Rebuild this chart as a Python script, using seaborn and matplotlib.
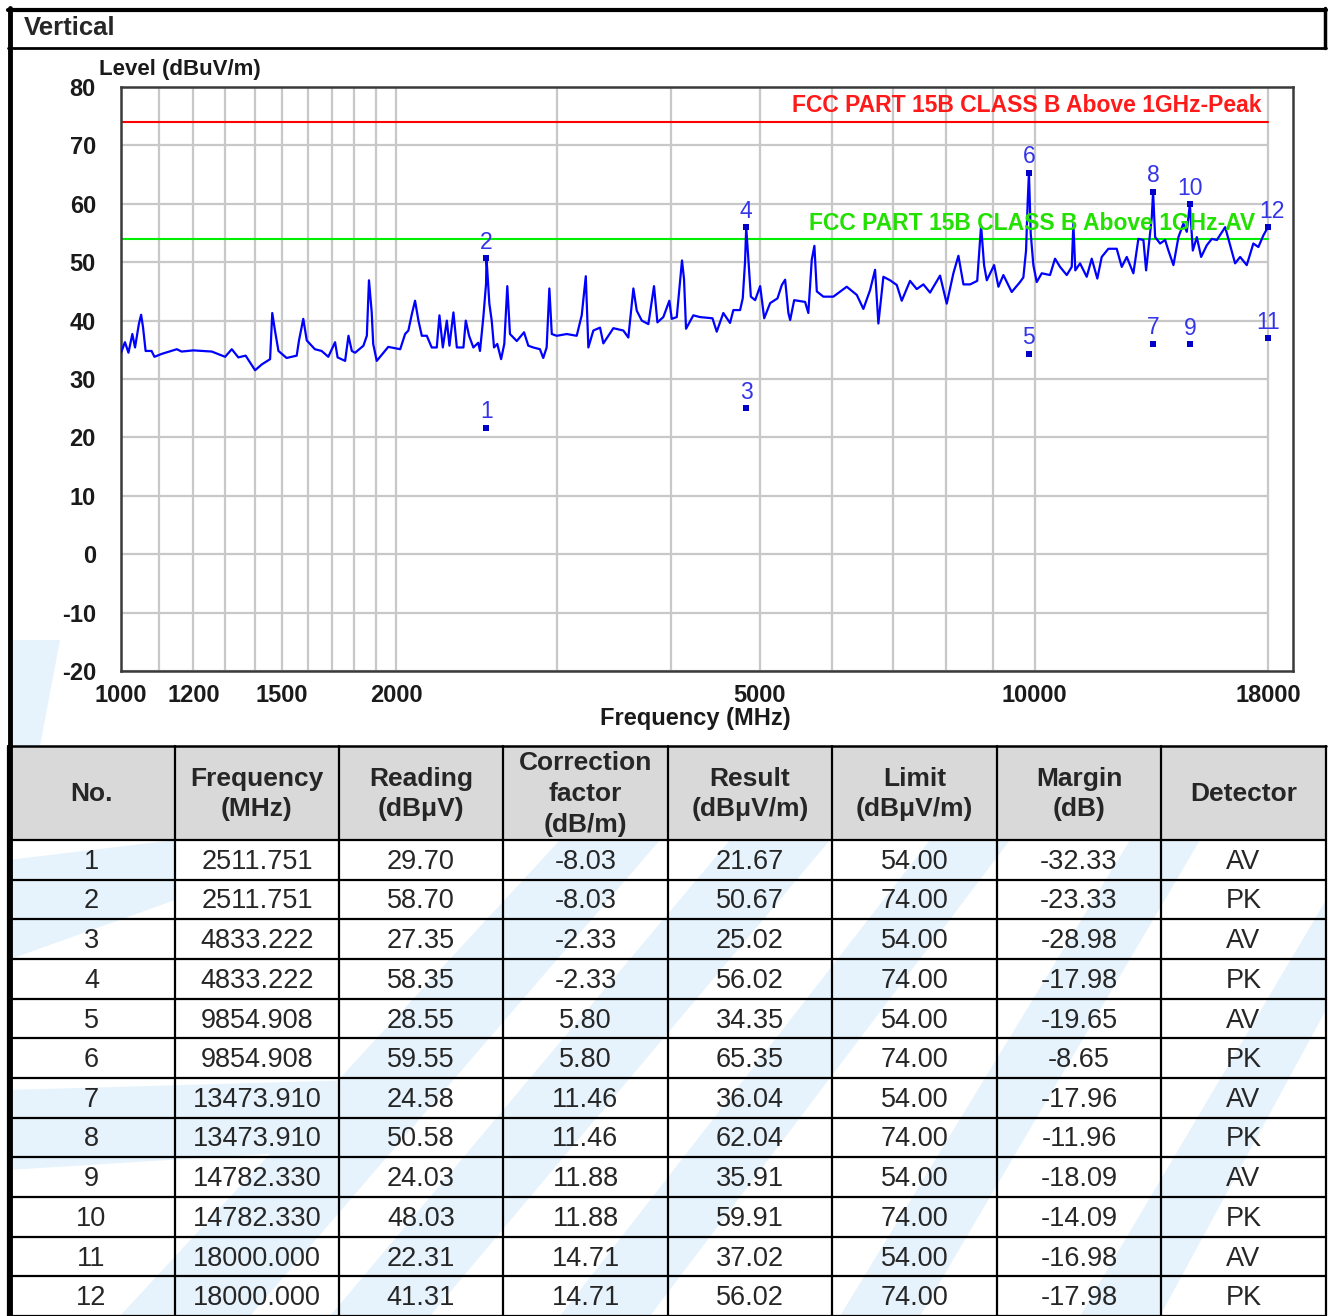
import matplotlib
matplotlib.use("Agg")
import matplotlib.pyplot as plt
from matplotlib.patches import Rectangle, Polygon
import matplotlib.transforms as mtransforms
import pandas as pd
import seaborn as sns

# ---- scan trace ----
trace_freq = [
    1000, 1010, 1019, 1029, 1036, 1046, 1052, 1057, 1064, 1080, 1088, 1108, 1151, 1165, 1200,
    1257, 1300, 1322, 1344, 1369, 1402, 1426, 1456, 1464, 1474, 1487, 1518, 1557, 1566, 1583,
    1597, 1610, 1630, 1658, 1686, 1715, 1726, 1759, 1774, 1789, 1804, 1842, 1858, 1868, 1881,
    1888, 1905, 1961, 2021, 2046, 2063, 2081, 2098, 2116, 2134, 2161, 2188, 2216, 2231, 2250,
    2273, 2288, 2311, 2331, 2370, 2384, 2404, 2430, 2460, 2471, 2492, 2509, 2512, 2530, 2545,
    2560, 2581, 2606, 2627, 2647, 2665, 2711, 2761, 2791, 2826, 2874, 2898, 2923, 2943, 2961,
    2998, 3075, 3153, 3193, 3226, 3247, 3288, 3344, 3372, 3458, 3546, 3591, 3637, 3668, 3715,
    3777, 3831, 3864, 3922, 3982, 4006, 4057, 4111, 4132, 4153, 4230, 4302, 4439, 4487, 4562,
    4640, 4679, 4759, 4791, 4819, 4833, 4860, 4890, 4943, 5006, 5057, 5134, 5229, 5287, 5331,
    5375, 5399, 5454, 5606, 5652, 5701, 5739, 5774, 5870, 6020, 6226, 6386, 6493, 6603, 6687,
    6743, 6829, 6945, 7063, 7152, 7303, 7428, 7553, 7681, 7877, 8011, 8146, 8250, 8355, 8497,
    8650, 8735, 8801, 8862, 9027, 9125, 9240, 9436, 9636, 9717, 9783, 9825, 9855, 9899, 9965,
    10050, 10178, 10392, 10524, 10658, 10840, 10977, 11022, 11076, 11209, 11399, 11544, 11708,
    11838, 12039, 12294, 12451, 12610, 12821, 12984, 13150, 13239, 13350, 13430, 13474, 13544,
    13714, 13889, 14005, 14183, 14363, 14543, 14668, 14782, 14893, 15044, 15208, 15427, 15624,
    15823, 16158, 16360, 16568, 16779, 17061, 17347, 17568, 17792, 18000,
]
trace_level = [
    34.5, 36.3, 34.5, 37.7, 35.4, 39.4, 41.0, 38.9, 34.8, 34.8, 33.8, 34.3, 35.1, 34.7, 34.9,
    34.7, 33.8, 35.1, 33.7, 34.0, 31.5, 32.5, 33.4, 41.3, 38.3, 34.8, 33.6, 34.0, 36.6, 40.3,
    36.6, 36.0, 35.1, 34.8, 33.8, 36.3, 33.7, 33.1, 37.4, 34.8, 34.5, 35.7, 37.4, 46.9, 41.4,
    36.0, 33.1, 35.5, 35.1, 37.7, 38.3, 41.1, 43.4, 40.0, 37.4, 37.4, 35.4, 35.4, 40.9, 35.4,
    40.0, 35.7, 41.4, 35.4, 35.4, 40.0, 37.4, 35.4, 36.2, 34.8, 40.6, 46.3, 50.67, 42.9, 40.0,
    35.4, 36.0, 33.4, 36.0, 45.9, 37.7, 36.5, 38.0, 35.7, 35.4, 35.1, 33.6, 35.4, 45.5, 37.7,
    37.4, 37.7, 37.4, 40.9, 47.6, 35.4, 38.3, 38.8, 36.1, 38.7, 38.3, 37.1, 45.5, 41.7, 40.0,
    39.4, 45.9, 39.7, 40.6, 43.4, 40.3, 40.6, 50.3, 47.1, 38.6, 40.9, 40.6, 40.4, 38.1, 41.3,
    39.6, 41.8, 41.8, 43.8, 50.1, 56.02, 50.3, 44.1, 43.5, 45.9, 40.4, 43.0, 43.8, 46.1, 47.0,
    41.3, 40.1, 43.5, 43.2, 41.3, 50.4, 52.8, 45.0, 44.1, 44.1, 45.8, 44.4, 42.0, 45.2, 48.7,
    39.5, 47.5, 46.9, 46.1, 43.4, 46.8, 45.4, 46.2, 44.8, 47.7, 42.9, 48.1, 51.1, 46.2, 46.2,
    46.8, 56.3, 49.5, 46.9, 49.5, 45.8, 47.8, 44.9, 46.6, 47.4, 52.0, 60.6, 65.35, 54.9, 49.5,
    46.6, 48.1, 47.8, 50.6, 49.2, 47.8, 49.2, 56.6, 48.6, 49.8, 47.5, 50.6, 47.2,
    50.9, 52.3, 52.3, 49.2, 50.9, 48.1, 54.0, 53.8, 48.6, 54.0, 57.7, 62.04, 54.3,
    53.2, 53.8, 52.0, 49.5, 54.3, 56.6, 55.2, 59.91, 52.0, 54.3, 50.9, 52.9, 54.0,
    53.8, 56.0, 52.9, 49.8, 50.9, 49.5, 53.2, 52.6, 54.6, 56.02,
]

# ---- limits ----
limit_start, limit_stop = 1000, 18000
limit_peak, limit_av = 74.0, 54.0
label_peak = "FCC PART 15B CLASS B Above 1GHz-Peak"
label_av = "FCC PART 15B CLASS B Above 1GHz-AV"

# ---- final measurement table ----
meas_no = [1, 2, 3, 4, 5, 6, 7, 8, 9, 10, 11, 12]
meas_freq = [2511.751, 2511.751, 4833.222, 4833.222, 9854.908, 9854.908,
             13473.910, 13473.910, 14782.330, 14782.330, 18000.000, 18000.000]
meas_reading = [29.70, 58.70, 27.35, 58.35, 28.55, 59.55, 24.58, 50.58, 24.03, 48.03, 22.31, 41.31]
meas_corr = [-8.03, -8.03, -2.33, -2.33, 5.80, 5.80, 11.46, 11.46, 11.88, 11.88, 14.71, 14.71]
meas_result = [21.67, 50.67, 25.02, 56.02, 34.35, 65.35, 36.04, 62.04, 35.91, 59.91, 37.02, 56.02]
meas_limit = [54.00, 74.00, 54.00, 74.00, 54.00, 74.00, 54.00, 74.00, 54.00, 74.00, 54.00, 74.00]
meas_margin = [-32.33, -23.33, -28.98, -17.98, -19.65, -8.65, -17.96, -11.96, -18.09, -14.09, -16.98, -17.98]
meas_det = ["AV", "PK", "AV", "PK", "AV", "PK", "AV", "PK", "AV", "PK", "AV", "PK"]

x_ticks = [1000, 1200, 1500, 2000, 5000, 10000, 18000]
x_grid = [1100, 1200, 1300, 1400, 1500, 1600, 1700, 1800, 1900, 2000,
          3000, 4000, 5000, 6000, 7000, 8000, 9000, 10000, 18000]
y_ticks = [-20, -10, 0, 10, 20, 30, 40, 50, 60, 70, 80]

headers = ["No.", "Frequency\n(MHz)", "Reading\n(dBμV)", "Correction\nfactor\n(dB/m)",
           "Result\n(dBμV/m)", "Limit\n(dBμV/m)", "Margin\n(dB)", "Detector"]

table = pd.DataFrame({
    "no": [str(v) for v in meas_no],
    "freq": [f"{v:.3f}" for v in meas_freq],
    "reading": [f"{v:.2f}" for v in meas_reading],
    "corr": [f"{v:.2f}" for v in meas_corr],
    "result": [f"{v:.2f}" for v in meas_result],
    "limit": [f"{v:.2f}" for v in meas_limit],
    "margin": [f"{v:.2f}" for v in meas_margin],
    "det": meas_det,
})

sns.set_style("white")
plt.rcParams["font.family"] = ["Liberation Sans", "DejaVu Sans"]

W, H = 1330, 1316
fig = plt.figure(figsize=(W / 100, H / 100), dpi=100)

# background layer in pixel coordinates: frame, watermark, table
bg = fig.add_axes([0, 0, 1, 1], zorder=0)
bg.set_xlim(0, W)
bg.set_ylim(H, 0)
bg.axis("off")

wm = "#e6f3fc"
for poly in [
    [(10, 640), (60, 640), (40, 746), (10, 746)],
    [(120, 1316), (250, 1316), (660, 840), (560, 840)],
    [(330, 1316), (430, 1316), (830, 840), (730, 840)],
    [(560, 1316), (650, 1316), (1010, 840), (930, 840)],
    [(840, 1316), (920, 1316), (1200, 840), (1130, 840)],
    [(1080, 1316), (1160, 1316), (1326, 1010), (1326, 900)],
    [(8, 860), (175, 840), (175, 900), (8, 960)],
    [(8, 1090), (360, 1080), (330, 1150), (8, 1170)],
]:
    bg.add_patch(Polygon(poly, closed=True, facecolor=wm, edgecolor="none"))

# outer frame and title bar
bg.plot([10, 10], [8, 1316], color="black", lw=3.5)
bg.plot([8, 1326], [9.5, 9.5], color="black", lw=3)
bg.plot([1324.5, 1324.5], [8, 48], color="black", lw=2.5)
bg.plot([8, 1326], [48, 48], color="black", lw=2)
fig.text(24 / W, 1 - 28 / H, "Vertical", fontsize=18.5, fontweight="bold", va="center", ha="left")

# table
col_edges = [8, 175, 339, 503, 668, 832, 997, 1161, 1326]
head_top, head_bot = 746, 840
row_h = (H - head_bot) / len(table)
bg.add_patch(Rectangle((col_edges[0], head_top), col_edges[-1] - col_edges[0], head_bot - head_top,
                       facecolor="#d9d9d9", edgecolor="none"))
for c, text in enumerate(headers):
    cx = (col_edges[c] + col_edges[c + 1]) / 2
    bg.text(cx, (head_top + head_bot) / 2 + 1, text, ha="center", va="center", fontsize=19,
            fontweight="bold", linespacing=1.35)
for r, row in enumerate(table.itertuples(index=False)):
    cy = head_bot + (r + 0.5) * row_h
    for c, val in enumerate(row):
        cx = (col_edges[c] + col_edges[c + 1]) / 2
        bg.text(cx, cy + 2, val, ha="center", va="center", fontsize=19.5)
for x in col_edges:
    bg.plot([x, x], [head_top, H], color="black", lw=1.6)
bg.plot([col_edges[0], col_edges[-1]], [head_top, head_top], color="black", lw=1.8)
for r in range(len(table) + 1):
    y = head_bot + r * row_h
    bg.plot([col_edges[0], col_edges[-1]], [y, y], color="black", lw=1.6)

# ---- spectrum chart ----
ax = fig.add_axes([121 / W, 1 - 671 / H, 1172 / W, 584 / H], zorder=2)
ax.set_facecolor("white")
ax.set_xscale("log")

ax.vlines(x_grid, y_ticks[0], y_ticks[-1], color="#c8c8c8", lw=1.6, zorder=1)
ax.hlines(y_ticks, limit_start, limit_stop, color="#c8c8c8", lw=1.6, zorder=1)

ax.plot([limit_start, limit_stop], [limit_peak, limit_peak], color="#ff0000", lw=1.5, zorder=2)
ax.plot([limit_start, limit_stop], [limit_av, limit_av], color="#00ee00", lw=1.5, zorder=2)

sns.lineplot(x=trace_freq, y=trace_level, ax=ax, color="#0000ff", lw=1.6,
             estimator=None, sort=False, zorder=3)
sns.scatterplot(x=meas_freq, y=meas_result, ax=ax, marker="s", s=22, color="#0000c8",
                linewidth=0, zorder=4)
for n, f, v in zip(meas_no, meas_freq, meas_result):
    dx = 2.5 if n == 12 else 0
    ax.annotate(str(n), (f, v), xytext=(dx, 11.5), textcoords="offset points", ha="center",
                va="center", fontsize=16.5, color="#3535e8", zorder=5)

blend = mtransforms.blended_transform_factory(ax.transAxes, ax.transData)
ax.annotate(label_peak, (0.9735, limit_peak), xycoords=blend, xytext=(0, 3.5),
            textcoords="offset points", ha="right", va="bottom", fontsize=16.5,
            fontweight="bold", color="#ff1a1a", zorder=5)
ax.annotate(label_av, (0.968, limit_av), xycoords=blend, xytext=(0, 2.5),
            textcoords="offset points", ha="right", va="bottom", fontsize=16.5,
            fontweight="bold", color="#22e000", zorder=5)

ax.set_xlim(1000, 19170)
ax.set_ylim(-20, 80)
ax.set_xticks(x_ticks)
ax.set_xticklabels([str(v) for v in x_ticks])
ax.set_xticks([], minor=True)
ax.set_yticks(y_ticks)
ax.set_yticklabels([str(v) for v in y_ticks])
ax.tick_params(axis="both", which="both", length=0, labelsize=17, colors="#1a1a1a")
ax.tick_params(axis="y", pad=18)
ax.tick_params(axis="x", pad=9)
for lbl in ax.get_xticklabels() + ax.get_yticklabels():
    lbl.set_fontweight("bold")
ax.set_xlabel("")
ax.set_ylabel("")
for s in ax.spines.values():
    s.set_color("#3a3a3a")
    s.set_linewidth(1.8)

fig.text(99 / W, 1 - 70 / H, "Level (dBuV/m)", fontsize=16, fontweight="bold", ha="left", va="center",
         color="#1a1a1a")
fig.text(695 / W, 1 - 718 / H, "Frequency (MHz)", fontsize=17, fontweight="bold", ha="center",
         va="center", color="#1a1a1a")

fig.savefig("out.png", dpi=100)
plt.close(fig)
